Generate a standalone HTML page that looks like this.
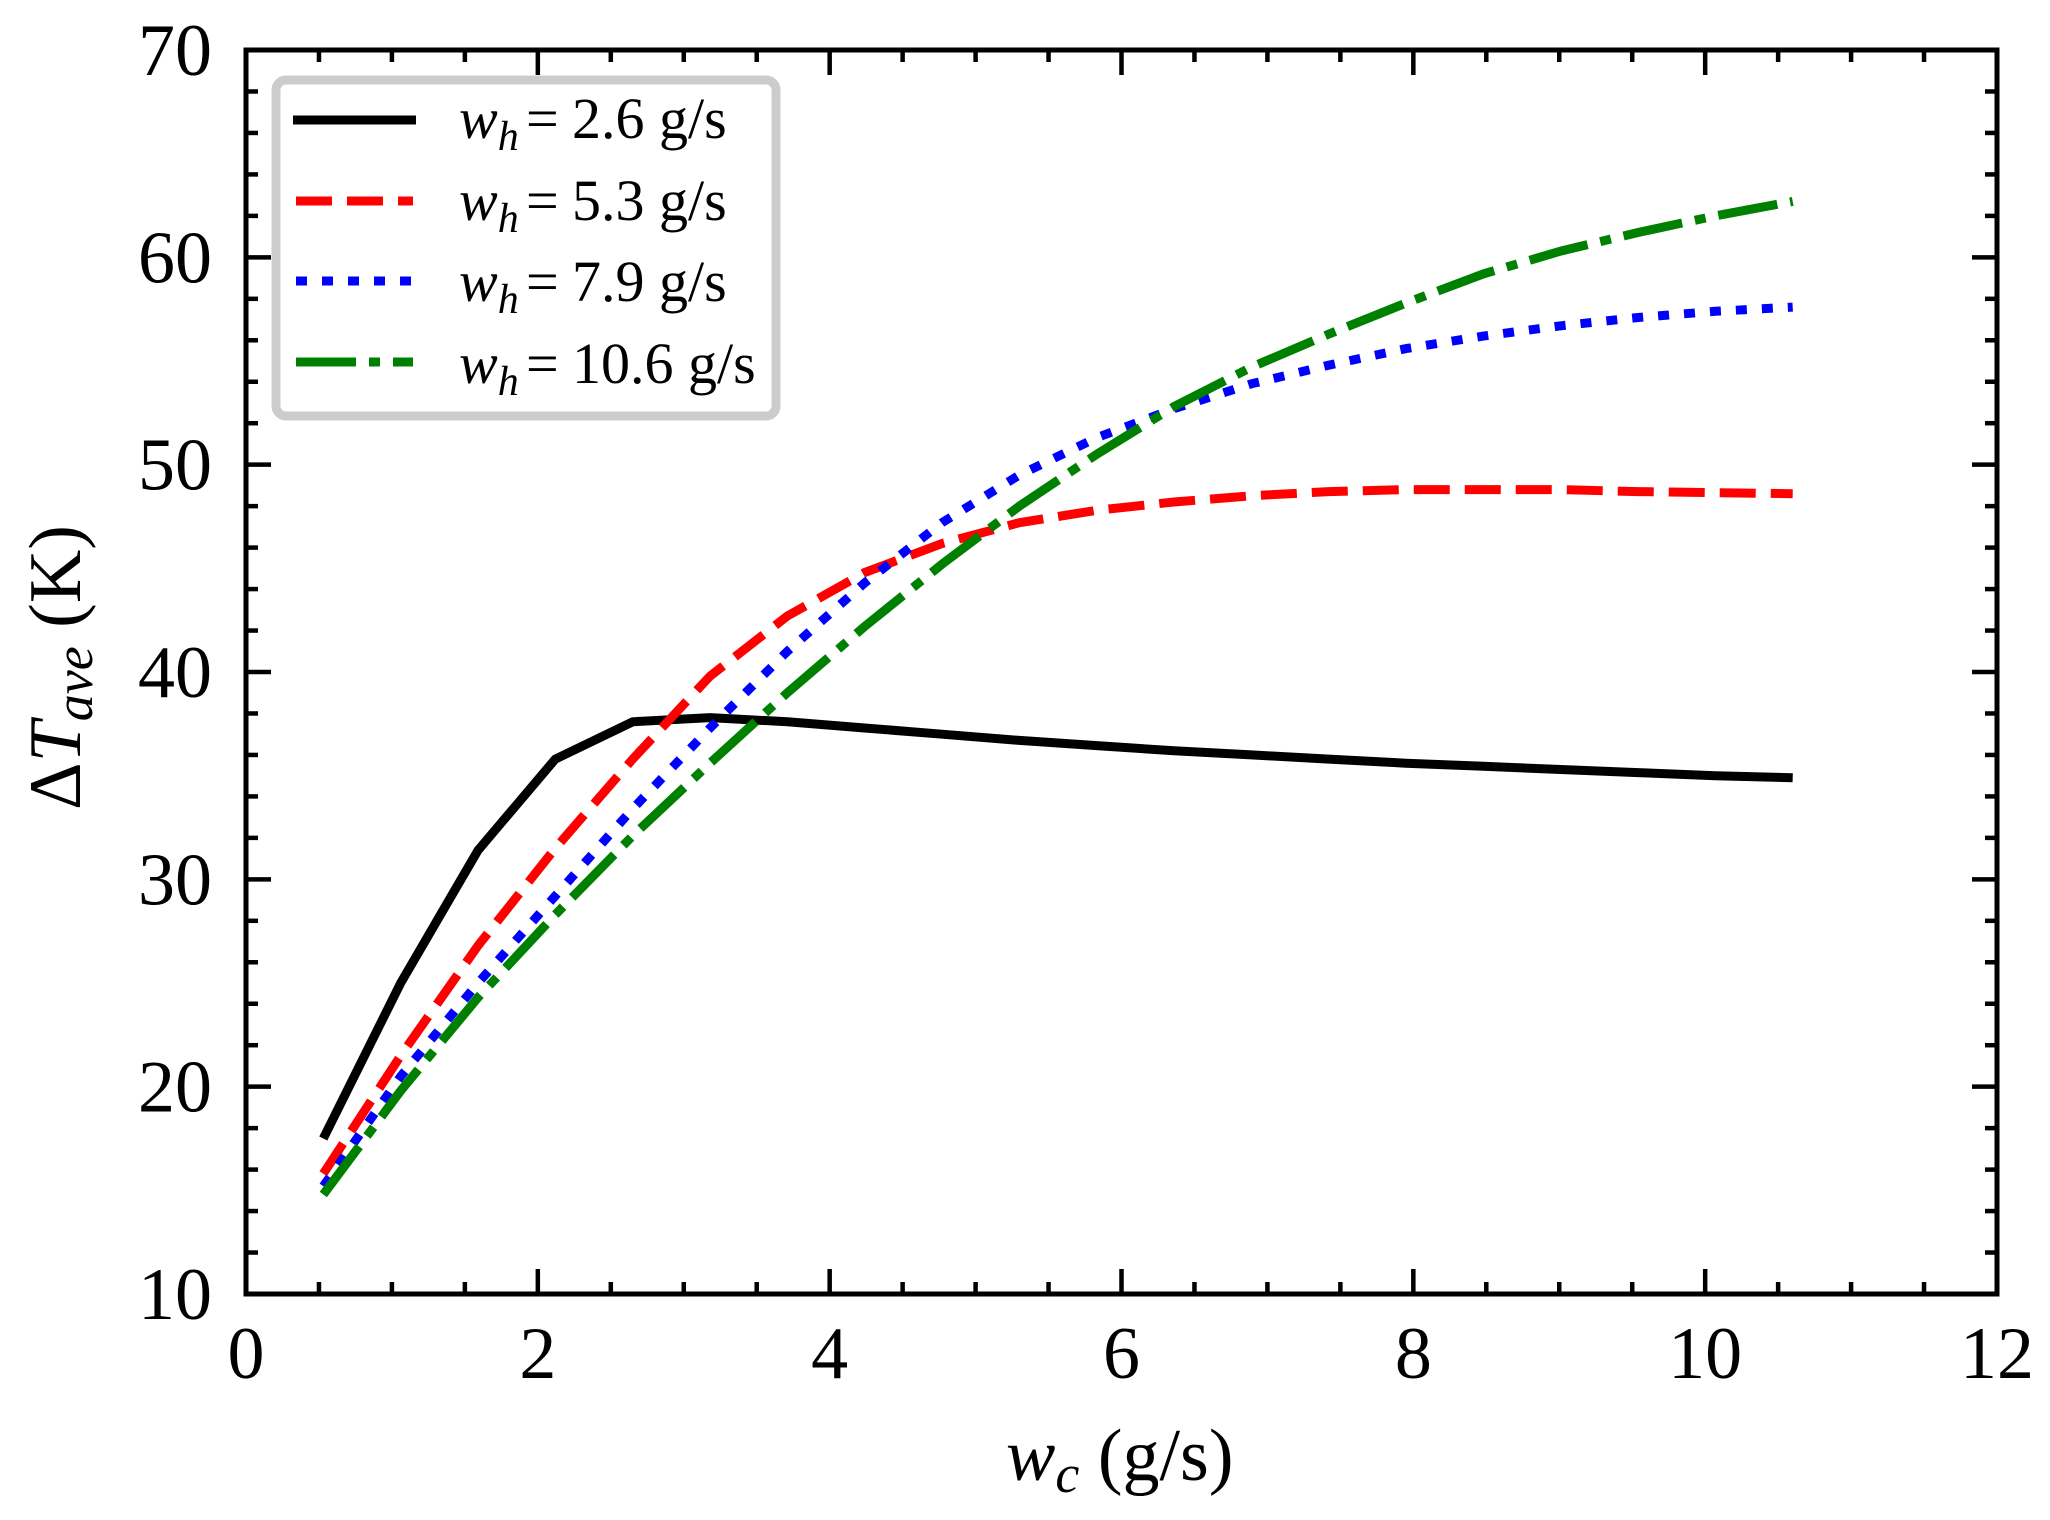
<!DOCTYPE html>
<html><head><meta charset="utf-8"><style>
html,body{margin:0;padding:0;background:#fff;}
svg{display:block;}
text{font-family:"Liberation Serif","Times New Roman",Times,serif;}
</style></head><body>
<svg id="s" width="2050" height="1520" viewBox="0 0 2050 1520" xmlns="http://www.w3.org/2000/svg" font-family="Liberation Serif, serif">
<rect width="2050" height="1520" fill="#fff"/>
<g id="ticks" stroke="#000" stroke-width="4.5"></g>
<g id="series" fill="none" stroke-width="9" stroke-linejoin="miter"></g>
<rect x="246" y="50" width="1751" height="1244" fill="none" stroke="#000" stroke-width="5"/>
<g id="labels" font-size="74" fill="#000"></g>
<!-- legend -->
<rect x="276" y="80" width="500" height="336" rx="10" fill="#fff" stroke="#cccccc" stroke-width="9"/>
<g stroke-width="9" fill="none">
<line x1="293" y1="120" x2="416" y2="120" stroke="#000"/>
<line x1="296" y1="201" x2="413" y2="201" stroke="#ff0000" stroke-dasharray="36,15"/>
<line x1="296" y1="281" x2="413" y2="281" stroke="#0000ff" stroke-dasharray="11,15"/>
<line x1="296" y1="362" x2="413" y2="362" stroke="#008000" stroke-dasharray="60,13,11,13"/>
</g>
<g font-size="58" fill="#000">
<text x="459" y="138"><tspan font-style="italic">w</tspan><tspan font-style="italic" font-size="42" dy="12">h</tspan><tspan dy="-12" x="526">=</tspan><tspan x="572">2.6 g/s</tspan></text>
<text x="459" y="220"><tspan font-style="italic">w</tspan><tspan font-style="italic" font-size="42" dy="12">h</tspan><tspan dy="-12" x="526">=</tspan><tspan x="572">5.3 g/s</tspan></text>
<text x="459" y="301"><tspan font-style="italic">w</tspan><tspan font-style="italic" font-size="42" dy="12">h</tspan><tspan dy="-12" x="526">=</tspan><tspan x="572">7.9 g/s</tspan></text>
<text x="459" y="383"><tspan font-style="italic">w</tspan><tspan font-style="italic" font-size="42" dy="12">h</tspan><tspan dy="-12" x="526">=</tspan><tspan x="572">10.6 g/s</tspan></text>
</g>
<!-- axis labels -->
<text x="1006" y="1480" font-size="74"><tspan font-style="italic">w</tspan><tspan font-style="italic" font-size="54" dy="12">c</tspan><tspan dy="-12"> (g/s)</tspan></text>
<text transform="translate(80,810) rotate(-90)" font-size="74">Δ<tspan font-style="italic">T</tspan><tspan font-style="italic" font-size="54" dy="12">ave</tspan><tspan dy="-12"> (K)</tspan></text>
</svg>
<script>
var NS="http://www.w3.org/2000/svg";
function X(x){return 246+145.917*x;}
function Y(y){return 1294-20.733*(y-10);}
function el(p,t,a){var e=document.createElementNS(NS,t);for(var k in a)e.setAttribute(k,a[k]);p.appendChild(e);return e;}
var tk=document.getElementById("ticks");
for(var i=0;i<=24;i++){var v=i*0.5,x=X(v),L=(i%4==0)?25:12;
 el(tk,"line",{x1:x,y1:1294,x2:x,y2:1294-L});el(tk,"line",{x1:x,y1:50,x2:x,y2:50+L});}
for(var i=0;i<=30;i++){var v=10+i*2,y=Y(v),L=(i%5==0)?25:12;
 el(tk,"line",{x1:246,y1:y,x2:246+L,y2:y});el(tk,"line",{x1:1997,y1:y,x2:1997-L,y2:y});}
var lb=document.getElementById("labels");
for(var v=0;v<=12;v+=2){var t=el(lb,"text",{x:X(v),y:1378,"text-anchor":"middle"});t.textContent=v;}
for(var v=10;v<=70;v+=10){var t=el(lb,"text",{x:212,y:Y(v)+25,"text-anchor":"end"});t.textContent=v;}
var D=[
["#000","",[17.5,25.0,31.4,35.8,37.6,37.8,37.6,37.3,37.0,36.7,36.45,36.2,36.0,35.8,35.6,35.45,35.3,35.15,35.0,34.9]],
["#ff0000","36,15",[15.8,21.5,26.8,31.5,35.8,39.8,42.7,44.8,46.2,47.2,47.8,48.2,48.5,48.7,48.8,48.8,48.8,48.7,48.65,48.6]],
["#0000ff","11,15",[15.2,20.5,25.0,29.2,33.4,37.3,41.0,44.3,47.2,49.5,51.3,52.7,53.9,54.8,55.6,56.2,56.7,57.1,57.4,57.6]],
["#008000","60,13,11,13",[14.8,19.8,24.3,28.3,32.1,35.6,39.0,42.2,45.2,48.0,50.5,52.8,54.7,56.3,57.8,59.2,60.3,61.2,62.0,62.7]]];
var sg=document.getElementById("series");
D.forEach(function(d){var pts=d[2].map(function(y,i){return X(0.53*(i+1)).toFixed(1)+","+Y(y).toFixed(1);}).join(" ");
 var a={points:pts,stroke:d[0]};if(d[1])a["stroke-dasharray"]=d[1];el(sg,"polyline",a);});
</script>
</body></html>
